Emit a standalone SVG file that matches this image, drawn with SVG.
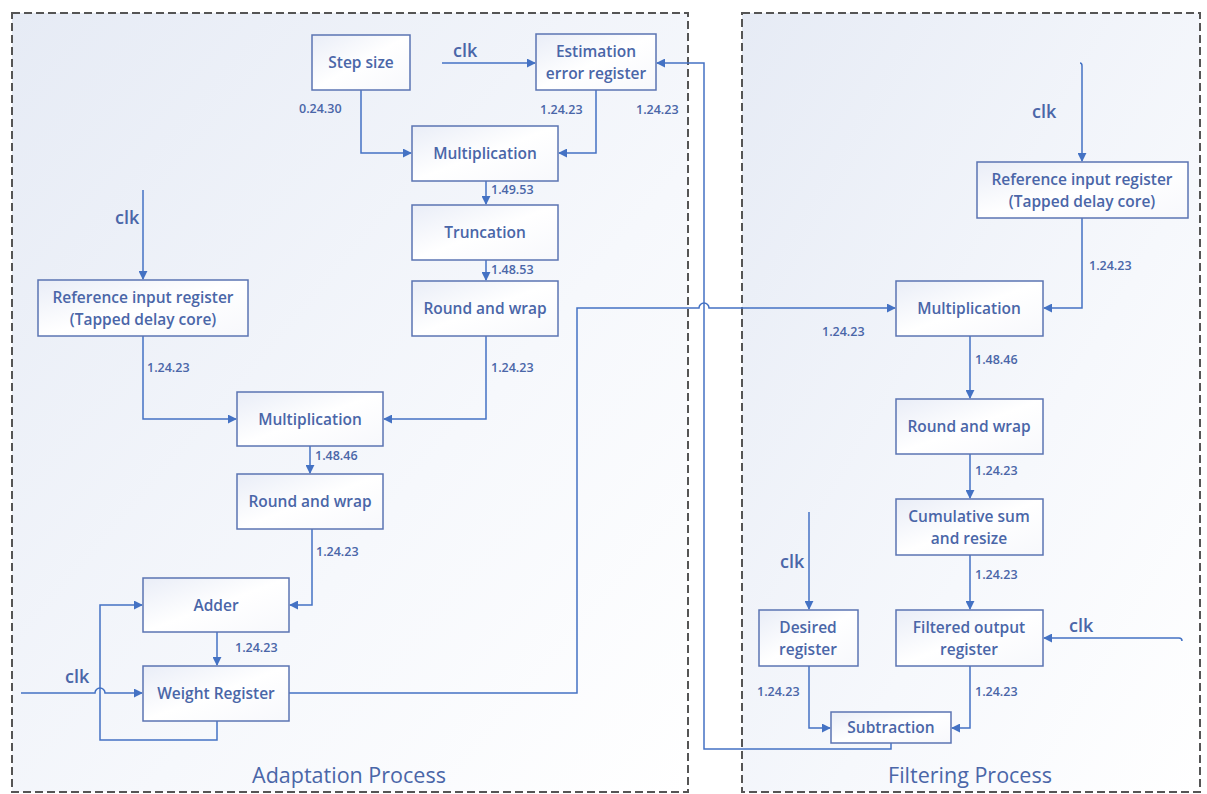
<svg xmlns="http://www.w3.org/2000/svg" width="1207" height="794" viewBox="0 0 1207 794">
  <defs>
    <linearGradient id="panelFill" x1="0" y1="0" x2="1" y2="1">
      <stop offset="0" stop-color="#e6ebf5"/>
      <stop offset="0.6" stop-color="#f6f8fc"/>
      <stop offset="1" stop-color="#ffffff"/>
    </linearGradient>
    <linearGradient id="nodeFill" x1="0" y1="0" x2="1" y2="1">
      <stop offset="0" stop-color="#e9edf7"/>
      <stop offset="0.5" stop-color="#ffffff"/>
      <stop offset="1" stop-color="#f7f8fc"/>
    </linearGradient>
    <marker id="arrow" viewBox="0 0 10 10" refX="9" refY="5" markerWidth="9" markerHeight="9" markerUnits="userSpaceOnUse" orient="auto">
      <path d="M0,0 L10,5 L0,10 z" fill="#4472c4"/>
    </marker>
  </defs>
  <style>
    .panel { fill: url(#panelFill); stroke: #555; stroke-width: 2; stroke-dasharray: 8 4; }
    .node rect { fill: url(#nodeFill); stroke: #5b74b3; stroke-width: 1.5; }
    .node text { font-family: "Open Sans", "Liberation Sans", sans-serif; font-size: 15.5px; font-weight: 600; fill: #4a66a8; text-anchor: middle; }
    .wire { fill: none; stroke: #4472c4; stroke-width: 1.5; }
    .arr { marker-end: url(#arrow); }
    .fmt { font-family: "Open Sans", "Liberation Sans", sans-serif; font-size: 12.5px; font-weight: 600; fill: #4a66a8; }
    .clk { font-family: "Open Sans", "Liberation Sans", sans-serif; font-size: 18px; font-weight: 600; fill: #4a66a8; }
    .title { font-family: "Open Sans", "Liberation Sans", sans-serif; font-size: 21.5px; fill: #4a66a8; text-anchor: middle; }
  </style>

  <rect width="1207" height="794" fill="#ffffff"/>

  <!-- process panels -->
  <rect id="adaptation-panel" class="panel" x="12" y="13" width="676" height="779"/>
  <rect id="filtering-panel" class="panel" x="742" y="13" width="458" height="779"/>
  <text class="title" x="349" y="783">Adaptation Process</text>
  <text class="title" x="970" y="783">Filtering Process</text>

  <!-- connectors -->
  <g id="connectors">
    <!-- step size to multiplication -->
    <path class="wire arr" d="M361,90 V153 H411"/>
    <!-- clk into estimation error register -->
    <path class="wire arr" d="M442,63 H535"/>
    <!-- estimation error register to multiplication -->
    <path class="wire arr" d="M596,90 V153 H559"/>
    <!-- multiplication to truncation -->
    <path class="wire arr" d="M486,181 V204"/>
    <!-- truncation to round and wrap -->
    <path class="wire arr" d="M486,260 V280"/>
    <!-- round and wrap to multiplication -->
    <path class="wire arr" d="M486,336 V419 H384"/>
    <!-- clk into reference input register -->
    <path class="wire arr" d="M143,190 V279"/>
    <!-- reference input register to multiplication -->
    <path class="wire arr" d="M143,336 V419 H236"/>
    <!-- multiplication to round and wrap -->
    <path class="wire arr" d="M310,446 V473"/>
    <!-- round and wrap to adder -->
    <path class="wire arr" d="M312,529 V605 H290"/>
    <!-- adder to weight register -->
    <path class="wire arr" d="M217,632 V665"/>
    <!-- clk into weight register, hopping over the feedback loop -->
    <path class="wire arr" d="M21,693 H95 A5,5 0 0 1 105,693 H142"/>
    <!-- weight register feedback to adder -->
    <path class="wire arr" d="M217,721 V740 H100 V605 H142"/>
    <!-- weight register to filtering multiplication, hopping over the error line -->
    <path class="wire arr" d="M289,693 H577 V308 H699 A5,5 0 0 1 709,308 H895"/>
    <!-- clk into filtering reference input register -->
    <path class="wire arr" d="M1080,63 Q1082,63 1082,66 V161"/>
    <!-- reference input register to multiplication -->
    <path class="wire arr" d="M1082,218 V308 H1044"/>
    <!-- multiplication to round and wrap -->
    <path class="wire arr" d="M970,336 V398"/>
    <!-- round and wrap to cumulative sum -->
    <path class="wire arr" d="M970,454 V498"/>
    <!-- cumulative sum to filtered output register -->
    <path class="wire arr" d="M970,555 V609"/>
    <!-- clk into filtered output register -->
    <path class="wire arr" d="M1182,641 Q1182,638 1179,638 H1044"/>
    <!-- clk into desired register -->
    <path class="wire arr" d="M809,512 V609"/>
    <!-- desired register to subtraction -->
    <path class="wire arr" d="M809,666 V728 H830"/>
    <!-- filtered output register to subtraction -->
    <path class="wire arr" d="M970,666 V728 H952"/>
    <!-- subtraction back to estimation error register -->
    <path class="wire arr" d="M891,743 V749 H704 V63 H657"/>
  </g>

  <!-- connector labels -->
  <g id="labels">
    <text class="fmt" x="299" y="113">0.24.30</text>
    <text class="fmt" x="540" y="114">1.24.23</text>
    <text class="fmt" x="636" y="114">1.24.23</text>
    <text class="fmt" x="491" y="194">1.49.53</text>
    <text class="fmt" x="491" y="274">1.48.53</text>
    <text class="fmt" x="491" y="372">1.24.23</text>
    <text class="fmt" x="147" y="372">1.24.23</text>
    <text class="fmt" x="315" y="460">1.48.46</text>
    <text class="fmt" x="316" y="556">1.24.23</text>
    <text class="fmt" x="235" y="652">1.24.23</text>
    <text class="fmt" x="1089" y="270">1.24.23</text>
    <text class="fmt" x="822" y="336">1.24.23</text>
    <text class="fmt" x="975" y="364">1.48.46</text>
    <text class="fmt" x="975" y="475">1.24.23</text>
    <text class="fmt" x="975" y="579">1.24.23</text>
    <text class="fmt" x="757" y="696">1.24.23</text>
    <text class="fmt" x="975" y="696">1.24.23</text>
    <text class="clk" x="453" y="57">clk</text>
    <text class="clk" x="115" y="224">clk</text>
    <text class="clk" x="65" y="683">clk</text>
    <text class="clk" x="1032" y="118">clk</text>
    <text class="clk" x="780" y="568">clk</text>
    <text class="clk" x="1069" y="632">clk</text>
  </g>

  <!-- adaptation process nodes -->
  <g id="step-size" class="node">
    <rect x="312" y="35" width="98" height="55"/>
    <text x="361" y="68">Step size</text>
  </g>
  <g id="estimation-error-register" class="node">
    <rect x="536" y="34" width="120" height="56"/>
    <text x="596" y="57">Estimation</text>
    <text x="596" y="79">error register</text>
  </g>
  <g id="multiplication-a1" class="node">
    <rect x="412" y="126" width="146" height="55"/>
    <text x="485" y="159">Multiplication</text>
  </g>
  <g id="truncation" class="node">
    <rect x="412" y="205" width="146" height="55"/>
    <text x="485" y="238">Truncation</text>
  </g>
  <g id="round-wrap-a1" class="node">
    <rect x="412" y="281" width="146" height="55"/>
    <text x="485" y="314">Round and wrap</text>
  </g>
  <g id="reference-input-a" class="node">
    <rect x="38" y="280" width="210" height="56"/>
    <text x="143" y="303">Reference input register</text>
    <text x="143" y="325">(Tapped delay core)</text>
  </g>
  <g id="multiplication-a2" class="node">
    <rect x="237" y="392" width="146" height="54"/>
    <text x="310" y="425">Multiplication</text>
  </g>
  <g id="round-wrap-a2" class="node">
    <rect x="237" y="474" width="146" height="55"/>
    <text x="310" y="507">Round and wrap</text>
  </g>
  <g id="adder" class="node">
    <rect x="143" y="578" width="146" height="54"/>
    <text x="216" y="611">Adder</text>
  </g>
  <g id="weight-register" class="node">
    <rect x="143" y="666" width="146" height="55"/>
    <text x="216" y="699">Weight Register</text>
  </g>

  <!-- filtering process nodes -->
  <g id="reference-input-f" class="node">
    <rect x="977" y="162" width="211" height="56"/>
    <text x="1082" y="185">Reference input register</text>
    <text x="1082" y="207">(Tapped delay core)</text>
  </g>
  <g id="multiplication-f" class="node">
    <rect x="896" y="281" width="147" height="55"/>
    <text x="969" y="314">Multiplication</text>
  </g>
  <g id="round-wrap-f" class="node">
    <rect x="896" y="399" width="147" height="55"/>
    <text x="969" y="432">Round and wrap</text>
  </g>
  <g id="cumulative-sum" class="node">
    <rect x="896" y="499" width="147" height="56"/>
    <text x="969" y="522">Cumulative sum</text>
    <text x="969" y="544">and resize</text>
  </g>
  <g id="filtered-output-register" class="node">
    <rect x="896" y="610" width="147" height="56"/>
    <text x="969" y="633">Filtered output</text>
    <text x="969" y="655">register</text>
  </g>
  <g id="desired-register" class="node">
    <rect x="759" y="610" width="99" height="56"/>
    <text x="808" y="633">Desired</text>
    <text x="808" y="655">register</text>
  </g>
  <g id="subtraction" class="node">
    <rect x="831" y="712" width="120" height="31"/>
    <text x="891" y="733">Subtraction</text>
  </g>
</svg>
